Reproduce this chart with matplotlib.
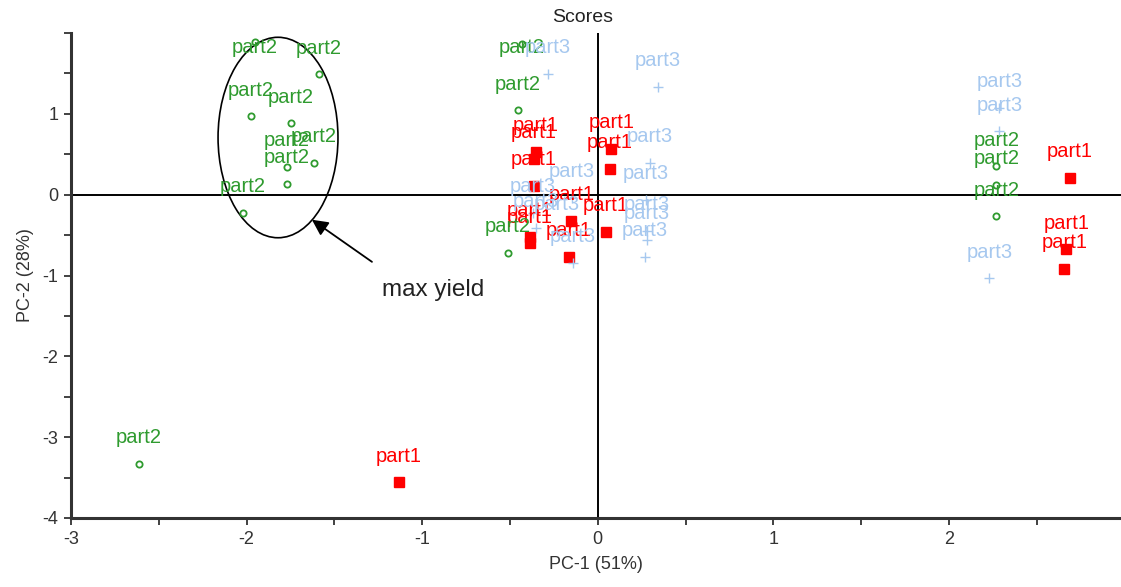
import numpy as np
import matplotlib
matplotlib.use("Agg")
import matplotlib.pyplot as plt
from matplotlib.patches import Ellipse
from matplotlib.ticker import MultipleLocator

plt.rcParams['font.family'] = ['Liberation Sans', 'DejaVu Sans']
plt.rcParams['axes.unicode_minus'] = False

# scores
part1_x = [-0.353, -0.364, -0.364, 0.078, 0.068, -0.150, 0.046, -0.387, -0.387, -0.163,
           2.690, 2.668, 2.658, -1.131]
part1_y = [0.533, 0.447, 0.112, 0.571, 0.319, -0.323, -0.463, -0.521, -0.602, -0.766,
           0.207, -0.674, -0.918, -3.557]

part2_x = [-1.952, -1.588, -1.975, -1.747, -1.616, -1.770, -1.770, -2.020,
           -0.434, -0.457, -0.514, 2.270, 2.270, 2.270, -2.612]
part2_y = [1.886, 1.490, 0.968, 0.881, 0.397, 0.347, 0.136, -0.223,
           1.860, 1.046, -0.716, 0.350, 0.124, -0.270, -3.330]

part3_x = [-0.286, 0.343, 0.296, 0.273, 0.279, 0.279, 0.268, -0.148, -0.370, -0.353,
           -0.233, -0.142, 2.288, 2.288, 2.231]
part3_y = [1.498, 1.336, 0.393, -0.062, -0.447, -0.558, -0.769, -0.037, -0.223, -0.409,
           -0.447, -0.844, 1.076, 0.785, -1.033]

groups = [
    ("part1", part1_x, part1_y, "#ff0000", dict(marker="s", ms=7, mfc="#ff0000", mec="#ff0000")),
    ("part2", part2_x, part2_y, "#2f9b2f", dict(marker="o", ms=4.5, mfc="none", mec="#2f9b2f", mew=1.3)),
    ("part3", part3_x, part3_y, "#a6c8ef", dict(marker="+", ms=7.5, mec="#a6c8ef", mew=1.0)),
]

fig = plt.figure(figsize=(11.21, 5.87), dpi=100)
ax = fig.add_axes([71 / 1121, 69 / 587, 1 - 71 / 1121, 485 / 587])
ax.set_xlim(-3, 2.98)
ax.set_ylim(-4, 2.0)

ax.axhline(0, color="black", lw=1.4, zorder=1)
ax.axvline(0, color="black", lw=1.4, zorder=1)

label_dy = 0.323
label_top = 1.824
for name, xs, ys, col, style in groups:
    ax.plot(xs, ys, ls="none", zorder=3, **style)
    for x, y in zip(xs, ys):
        ax.text(x, min(y + label_dy, label_top), name, color=col, fontsize=14.5,
                ha="center", va="center", zorder=4)

ax.add_patch(Ellipse((-1.821, 0.707), 0.683, 2.48, fill=False, ec="black", lw=1.2, zorder=2))
ax.annotate("", xy=(-1.628, -0.31), xytext=(-1.286, -0.831),
            arrowprops=dict(arrowstyle="-|>", color="black", lw=1.3,
                            mutation_scale=24, shrinkA=0, shrinkB=0))
ax.text(-0.938, -1.18, "max yield", fontsize=17.5, color="#222222", ha="center", va="center")

for side in ("top", "right"):
    ax.spines[side].set_visible(False)
for side in ("left", "bottom"):
    ax.spines[side].set_linewidth(2.2)
    ax.spines[side].set_color("#333333")

ax.xaxis.set_major_locator(MultipleLocator(1))
ax.xaxis.set_minor_locator(MultipleLocator(0.5))
ax.yaxis.set_major_locator(MultipleLocator(1))
ax.yaxis.set_minor_locator(MultipleLocator(0.5))
ax.set_yticks([-4, -3, -2, -1, 0, 1])
ax.tick_params(which="both", direction="out", length=5, width=1.3, colors="#333333",
               labelsize=13, pad=4)

ax.set_xlabel("PC-1 (51%)", fontsize=13, color="#333333", labelpad=6)
ax.set_ylabel("PC-2 (28%)", fontsize=13, color="#333333", labelpad=6)
fig.text(583 / 1121, 1 - 17 / 587, "Scores", fontsize=14, color="#222222",
         ha="center", va="center")

fig.savefig("out.png", dpi=100)
